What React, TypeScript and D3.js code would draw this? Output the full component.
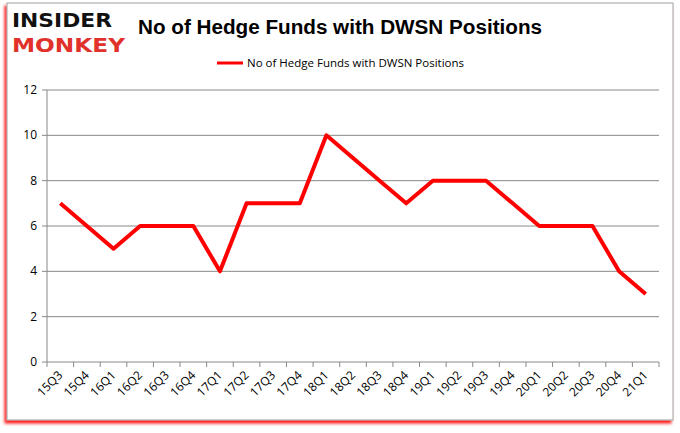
import * as d3 from "d3";

const categories = ["15Q3", "15Q4", "16Q1", "16Q2", "16Q3", "16Q4", "17Q1", "17Q2", "17Q3", "17Q4", "18Q1", "18Q2", "18Q3", "18Q4", "19Q1", "19Q2", "19Q3", "19Q4", "20Q1", "20Q2", "20Q3", "20Q4", "21Q1"];
const funds = [7, 6, 5, 6, 6, 6, 4, 7, 7, 7, 10, 9, 8, 7, 8, 8, 8, 7, 6, 6, 6, 4, 3];
const yTicks = [0, 2, 4, 6, 8, 10, 12];
const title = "No of Hedge Funds with DWSN Positions";
const legendLabel = "No of Hedge Funds with DWSN Positions";

const W = 680;
const H = 433;
const font = "'Open Sans', sans-serif";

export default function App() {
  const plot = { left: 47, right: 659, top: 90, bottom: 362 };
  const x = d3.scaleBand<string>().domain(categories).range([plot.left, plot.right]);
  const y = d3.scaleLinear().domain([0, 12]).range([plot.bottom, plot.top]);
  const line = d3
    .line<number>()
    .x((_, i) => x(categories[i])! + x.bandwidth() / 2)
    .y((d) => y(d));
  const boundaries = [...categories.map((c) => x(c)!), plot.right];

  return (
    <svg width={W} height={H} style={{ position: "absolute", left: 0, top: 0 }} fontFamily={font}>
      <defs>
        <filter id="shadow" x="-5%" y="-5%" width="110%" height="110%">
          <feDropShadow dx="-2" dy="3" stdDeviation="1.5" floodColor="#ff0000" floodOpacity="0.9" />
        </filter>
      </defs>
      <rect x={0} y={0} width={W} height={H} fill="#fff" />
      <rect x={7} y={3} width={666} height={417} fill="#fff" stroke="#a0a0a0" strokeWidth={1} filter="url(#shadow)" />

      {/* logo */}
      <g fontFamily="'DejaVu Sans', sans-serif" fontWeight="bold">
        <text x={12} y={27} fontSize={20} fill="#111" textLength={100} lengthAdjust="spacingAndGlyphs">INSIDER</text>
        <text x={12} y={52} fontSize={20} fill="#e0312a" textLength={113} lengthAdjust="spacingAndGlyphs">MONKEY</text>
      </g>

      <text x={340} y={34} textAnchor="middle" fontSize={20} fontWeight="bold" fill="#000" fontFamily="'Liberation Sans', Arial, sans-serif" textLength={404} lengthAdjust="spacingAndGlyphs">
        {title}
      </text>

      {/* legend */}
      <line x1={217} x2={243} y1={63} y2={63} stroke="#ff0000" strokeWidth={3} />
      <text x={247} y={67} fontSize={11} fill="#000" textLength={217} lengthAdjust="spacingAndGlyphs">{legendLabel}</text>

      {/* grid */}
      {yTicks.map((t) => (
        <g key={t}>
          <line x1={plot.left - 5} x2={plot.right} y1={y(t)} y2={y(t)} stroke="#888" strokeWidth={1} />
          <text x={37} y={y(t) + 4} textAnchor="end" fontSize={12} fill="#000">{t}</text>
        </g>
      ))}
      <line x1={plot.left} x2={plot.left} y1={plot.top} y2={plot.bottom} stroke="#888" />
      {boundaries.map((b, i) => (
        <line key={i} x1={b} x2={b} y1={plot.bottom} y2={plot.bottom + 5} stroke="#888" />
      ))}
      {categories.map((c) => {
        const cx = x(c)! + x.bandwidth() / 2;
        return (
          <text key={c} transform={`translate(${cx + 3},${plot.bottom + 14}) rotate(-45)`} textAnchor="end" fontSize={12} fill="#000">
            {c}
          </text>
        );
      })}

      <path d={line(funds)!} fill="none" stroke="#ff0000" strokeWidth={4} strokeLinejoin="round" />
    </svg>
  );
}
